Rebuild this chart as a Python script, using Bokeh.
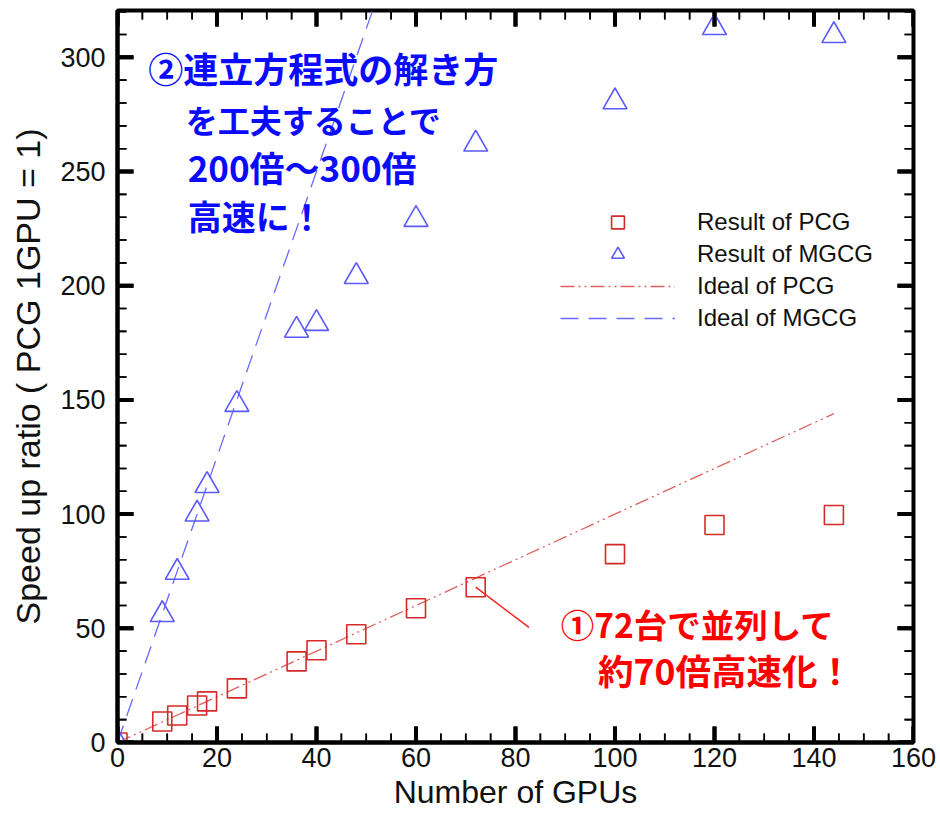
from bokeh.plotting import figure
from bokeh.models import (SingleIntervalTicker, Legend, LegendItem, Label, Range1d,
                          Arrow, ColumnDataSource)
from bokeh.embed import file_html
from bokeh.resources import INLINE

# ---- data ----
gpus = [0, 9, 12, 16, 18, 24, 36, 40, 48, 60, 72, 100, 120, 144]
pcg_speedup = [0, 9.2, 11.8, 16.2, 18.0, 23.7, 35.5, 40.4, 47.4, 58.8, 68.0, 82.5, 95.2, 99.6]
mgcg_speedup = [0, 56, 74.5, 100, 112.5, 148, 180.5, 183.5, 204, 229, 262, 280.5, 313, 309.5]
ideal_pcg_x = [0, 144]
ideal_pcg_y = [0, 144]
ideal_mgcg_x = [0, 144]
ideal_mgcg_y = [0, 900]

x_major_ticks = [0, 20, 40, 60, 80, 100, 120, 140, 160]
y_major_ticks = [0, 50, 100, 150, 200, 250, 300]
x_minor_ticks = [v for v in range(0, 161, 5) if v % 20 != 0]
y_minor_ticks = [v for v in range(0, 321, 10) if v % 50 != 0]

legend_labels = ["Result of PCG", "Result of MGCG", "Ideal of PCG", "Ideal of MGCG"]
blue_note = ["②連立方程式の解き方", "を工夫することで", "200倍～300倍", "高速に！"]
red_note = ["①72台で並列して", "約70倍高速化！"]

X_MAX = 160
Y_MAX = 320.5

W, H = 940, 813
BL, BR, BT, BB = 117, 27, 10, 71
PX_X = X_MAX / (W - BL - BR)   # data units per screen pixel
PX_Y = Y_MAX / (H - BT - BB)

RED_MK = "#d42a2a"
RED_LN = "#e06060"
BLUE_MK = "#5a5aff"
BLUE_LN = "#6a6aff"

p = figure(width=W, height=H, output_backend="svg", toolbar_location=None,
           x_range=Range1d(0, X_MAX), y_range=Range1d(0, Y_MAX),
           min_border_left=BL, min_border_right=BR, min_border_top=BT,
           min_border_bottom=BB)
p.background_fill_color = "white"
p.border_fill_color = "white"
p.xgrid.visible = False
p.ygrid.visible = False
p.outline_line_color = "black"
p.outline_line_width = 4

# ---- inward tick marks on all four sides ----
MAJ, MIN = 16, 9

def tick_coords(vals, length, vertical):
    xs0, ys0, xs1, ys1 = [], [], [], []
    for v in vals:
        if vertical:
            xs0 += [v, v]; xs1 += [v, v]
            ys0 += [0, Y_MAX]; ys1 += [length * PX_Y, Y_MAX - length * PX_Y]
        else:
            ys0 += [v, v]; ys1 += [v, v]
            xs0 += [0, X_MAX]; xs1 += [length * PX_X, X_MAX - length * PX_X]
    return xs0, ys0, xs1, ys1

for vals, length, width, vertical in [(x_major_ticks, MAJ, 4, True),
                                      (x_minor_ticks, MIN, 1.6, True),
                                      (y_major_ticks, MAJ, 4, False),
                                      (y_minor_ticks, MIN, 1.6, False)]:
    x0, y0, x1, y1 = tick_coords(vals, length, vertical)
    # glyph path
    p.segment(x0=x0, y0=y0, x1=x1, y1=y1, line_color="#000000", line_width=width)
    # annotation path (head-less arrows)
    src = ColumnDataSource(dict(x_start=x0, y_start=y0, x_end=x1, y_end=y1))
    p.add_layout(Arrow(source=src, x_start="x_start", y_start="y_start",
                       x_end="x_end", y_end="y_end", end=None, start=None,
                       line_color="#000000", line_width=width))

# ---- glyphs ----
r_ipcg = p.line(ideal_pcg_x, ideal_pcg_y, line_color=RED_LN, line_width=1.3,
                line_dash="14 4 2 4 2 4")
r_imgcg = p.line(ideal_mgcg_x, ideal_mgcg_y, line_color=BLUE_LN, line_width=1.3,
                 line_dash="18 10")
r_pcg = p.scatter(gpus, pcg_speedup, marker="square", size=19, fill_color=None,
                  line_color=RED_MK, line_width=1.6)
r_mgcg = p.scatter(gpus, mgcg_speedup, marker="triangle", size=24, fill_color=None,
                   line_color=BLUE_MK, line_width=1.6)

# leader line from the 72-GPU point to the red note
p.line([gpus[10], 82.7], [pcg_speedup[10], 50.4], line_color="#ff2020", line_width=1.5)

# ---- axes ----
p.xaxis.ticker = SingleIntervalTicker(interval=20, num_minor_ticks=0)
p.yaxis.ticker = SingleIntervalTicker(interval=50, num_minor_ticks=0)
for ax in list(p.xaxis) + list(p.yaxis):
    ax.axis_line_width = 4
    ax.axis_line_color = "black"
    ax.major_tick_in = 0
    ax.major_tick_out = 0
    ax.minor_tick_in = 0
    ax.minor_tick_out = 0
    ax.major_label_text_font = "Liberation Sans"
    ax.major_label_text_font_size = "27px"
    ax.major_label_text_color = "#111111"
    ax.axis_label_text_font = "Liberation Sans"
    ax.axis_label_text_font_style = "normal"
    ax.axis_label_text_color = "#111111"
for ax in p.xaxis:
    ax.axis_label = "Number of GPUs"
    ax.axis_label_text_font_size = "32px"
    ax.major_label_standoff = 5
    ax.axis_label_standoff = 4
for ax in p.yaxis:
    ax.axis_label = "Speed up ratio ( PCG 1GPU = 1)"
    ax.axis_label_text_font_size = "34px"
    ax.major_label_standoff = 12
    ax.axis_label_standoff = 10

# ---- legend ----
legend = Legend(items=[LegendItem(label=legend_labels[0], renderers=[r_pcg]),
                       LegendItem(label=legend_labels[1], renderers=[r_mgcg]),
                       LegendItem(label=legend_labels[2], renderers=[r_ipcg]),
                       LegendItem(label=legend_labels[3], renderers=[r_imgcg])],
                location=(443, 408), glyph_width=115, glyph_height=32,
                spacing=0, padding=0, margin=0, label_standoff=22,
                label_height=28,
                label_text_font="Liberation Sans", label_text_font_size="24px",
                label_text_color="#111111",
                border_line_color=None, background_fill_color=None,
                background_fill_alpha=0)
p.add_layout(legend)

# ---- notes ----
blue_pos = [(6.2, 295.6), (13.7, 273.2), (14.1, 252.2), (14.1, 230.7)]
blue_sizes = ["35px", "32px", "35px", "34px"]
for txt, (lx, ly), fs in zip(blue_note, blue_pos, blue_sizes):
    p.add_layout(Label(x=lx, y=ly, text=txt, text_font="Noto Sans CJK JP",
                       text_font_style="bold", text_font_size=fs,
                       text_color="#0a0aff", text_baseline="middle",
                       text_align="left"))
red_pos = [(89.1, 52.2), (96.6, 32.0)]
red_sizes = ["33.5px", "35.5px"]
for txt, (lx, ly), fs in zip(red_note, red_pos, red_sizes):
    p.add_layout(Label(x=lx, y=ly, text=txt, text_font="Noto Sans CJK JP",
                       text_font_style="bold", text_font_size=fs,
                       text_color="#ff0000", text_baseline="middle",
                       text_align="left"))

open("out.html", "w").write(file_html(p, INLINE))
